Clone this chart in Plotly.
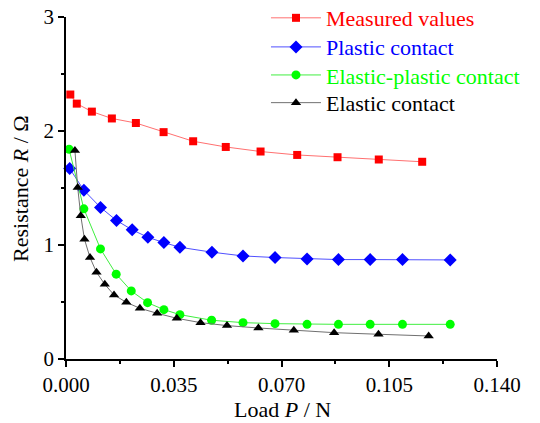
import plotly.graph_objects as go

# Measured values
x_meas = [0.0014, 0.0035, 0.0084, 0.0149, 0.0227, 0.0317, 0.0413, 0.0519, 0.0632, 0.0751, 0.0882, 0.1016, 0.1157]
y_meas = [2.32, 2.24, 2.17, 2.11, 2.07, 1.99, 1.91, 1.86, 1.82, 1.79, 1.77, 1.75, 1.73]

# Plastic contact
x_plas = [0.0012, 0.0058, 0.0112, 0.0164, 0.0215, 0.0266, 0.0318, 0.0370, 0.0474, 0.0575, 0.0679, 0.0783, 0.0885, 0.0988, 0.1093, 0.1248]
y_plas = [1.67, 1.48, 1.33, 1.215, 1.133, 1.068, 1.021, 0.98, 0.937, 0.904, 0.89, 0.878, 0.872, 0.872, 0.872, 0.869]

# Elastic-plastic contact
x_ep = [0.0010, 0.0058, 0.0112, 0.0163, 0.0212, 0.0265, 0.0318, 0.0370, 0.0473, 0.0575, 0.0679, 0.0783, 0.0885, 0.0988, 0.1093, 0.1248]
y_ep = [1.84, 1.317, 0.966, 0.744, 0.597, 0.494, 0.433, 0.389, 0.34, 0.319, 0.31, 0.304, 0.304, 0.304, 0.304, 0.304]

# Elastic contact
x_el = [0.0029, 0.0038, 0.0048, 0.0060, 0.0078, 0.0099, 0.0126, 0.0156, 0.0196, 0.0240, 0.0296, 0.0360, 0.0437, 0.0523, 0.0625, 0.0740, 0.0871, 0.1015, 0.1178]
y_el = [1.83, 1.505, 1.256, 1.05, 0.89, 0.761, 0.655, 0.562, 0.497, 0.445, 0.401, 0.357, 0.319, 0.293, 0.272, 0.252, 0.231, 0.217, 0.202]

x_ticks = [0.0, 0.035, 0.070, 0.105, 0.140]
x_ticklabels = ["0.000", "0.035", "0.070", "0.105", "0.140"]
y_ticks = [0, 1, 2, 3]

FONT = "Liberation Serif"

fig = go.Figure()
series = [
    (x_meas, y_meas, "Measured values", "#ff0000", "#ff7070", "square", 8, "legend", 0.997),
    (x_plas, y_plas, "Plastic contact", "#0000ff", "#5050ff", "diamond", 10, "legend2", 0.912),
    (x_ep, y_ep, "Elastic-plastic contact", "#00ff00", "#40ee40", "circle", 9, "legend3", 0.830),
    (x_el, y_el, "Elastic contact", "#000000", "#707070", "triangle-up", 9, "legend4", 0.749),
]
legends = {}
for xs, ys, name, mc, lc, sym, sz, lg, ly in series:
    fig.add_trace(go.Scatter(
        x=xs, y=ys, name=f"<span style='color:{mc}'>{name}</span>", mode="lines+markers",
        line=dict(color=lc, width=1),
        marker=dict(color=mc, symbol=sym, size=sz, line=dict(width=0)),
        cliponaxis=False, legend=lg,
    ))
    legends[lg] = dict(
        x=0.464, y=ly, xanchor="left", yanchor="middle",
        bgcolor="rgba(0,0,0,0)", font=dict(family=FONT, size=22),
        itemwidth=50,
    )

fig.update_layout(
    width=532, height=415,
    margin=dict(l=58, r=43, t=9, b=64, autoexpand=False),
    paper_bgcolor="white", plot_bgcolor="white",
    font=dict(family=FONT, size=21, color="black"),
    showlegend=True,
    xaxis=dict(
        range=[0, 0.14], tickvals=x_ticks, ticktext=x_ticklabels, automargin=False,
        ticklabeloverflow="allow",
        showgrid=False, zeroline=False, showline=True, linecolor="black", linewidth=1.5,
        ticks="outside", ticklen=6, tickwidth=1.5, tickcolor="black",
        minor=dict(dtick=0.0175, tick0=0, ticks="outside", ticklen=3, tickwidth=1.5, tickcolor="black", showgrid=False),
        tickfont=dict(family=FONT, size=21),
    ),
    yaxis=dict(
        range=[0, 3], tickvals=y_ticks, automargin=False,
        ticklabeloverflow="allow",
        showgrid=False, zeroline=False, showline=True, linecolor="black", linewidth=1.5,
        ticks="outside", ticklen=6, tickwidth=1.5, tickcolor="black",
        minor=dict(dtick=0.5, tick0=0, ticks="outside", ticklen=3, tickwidth=1.5, tickcolor="black", showgrid=False),
        tickfont=dict(family=FONT, size=21),
    ),
    annotations=[
        dict(text="Load <i>P</i> / N", xref="paper", yref="paper", x=0.502, y=-0.149,
             xanchor="center", yanchor="middle", showarrow=False, font=dict(family=FONT, size=22)),
        dict(text="Resistance <i>R</i> / Ω", xref="paper", y=0.5, yref="paper", x=-0.107,
             xanchor="center", yanchor="middle", textangle=-90, showarrow=False, font=dict(family=FONT, size=22)),
    ],
    **legends,
)

fig.write_html("out.html")
